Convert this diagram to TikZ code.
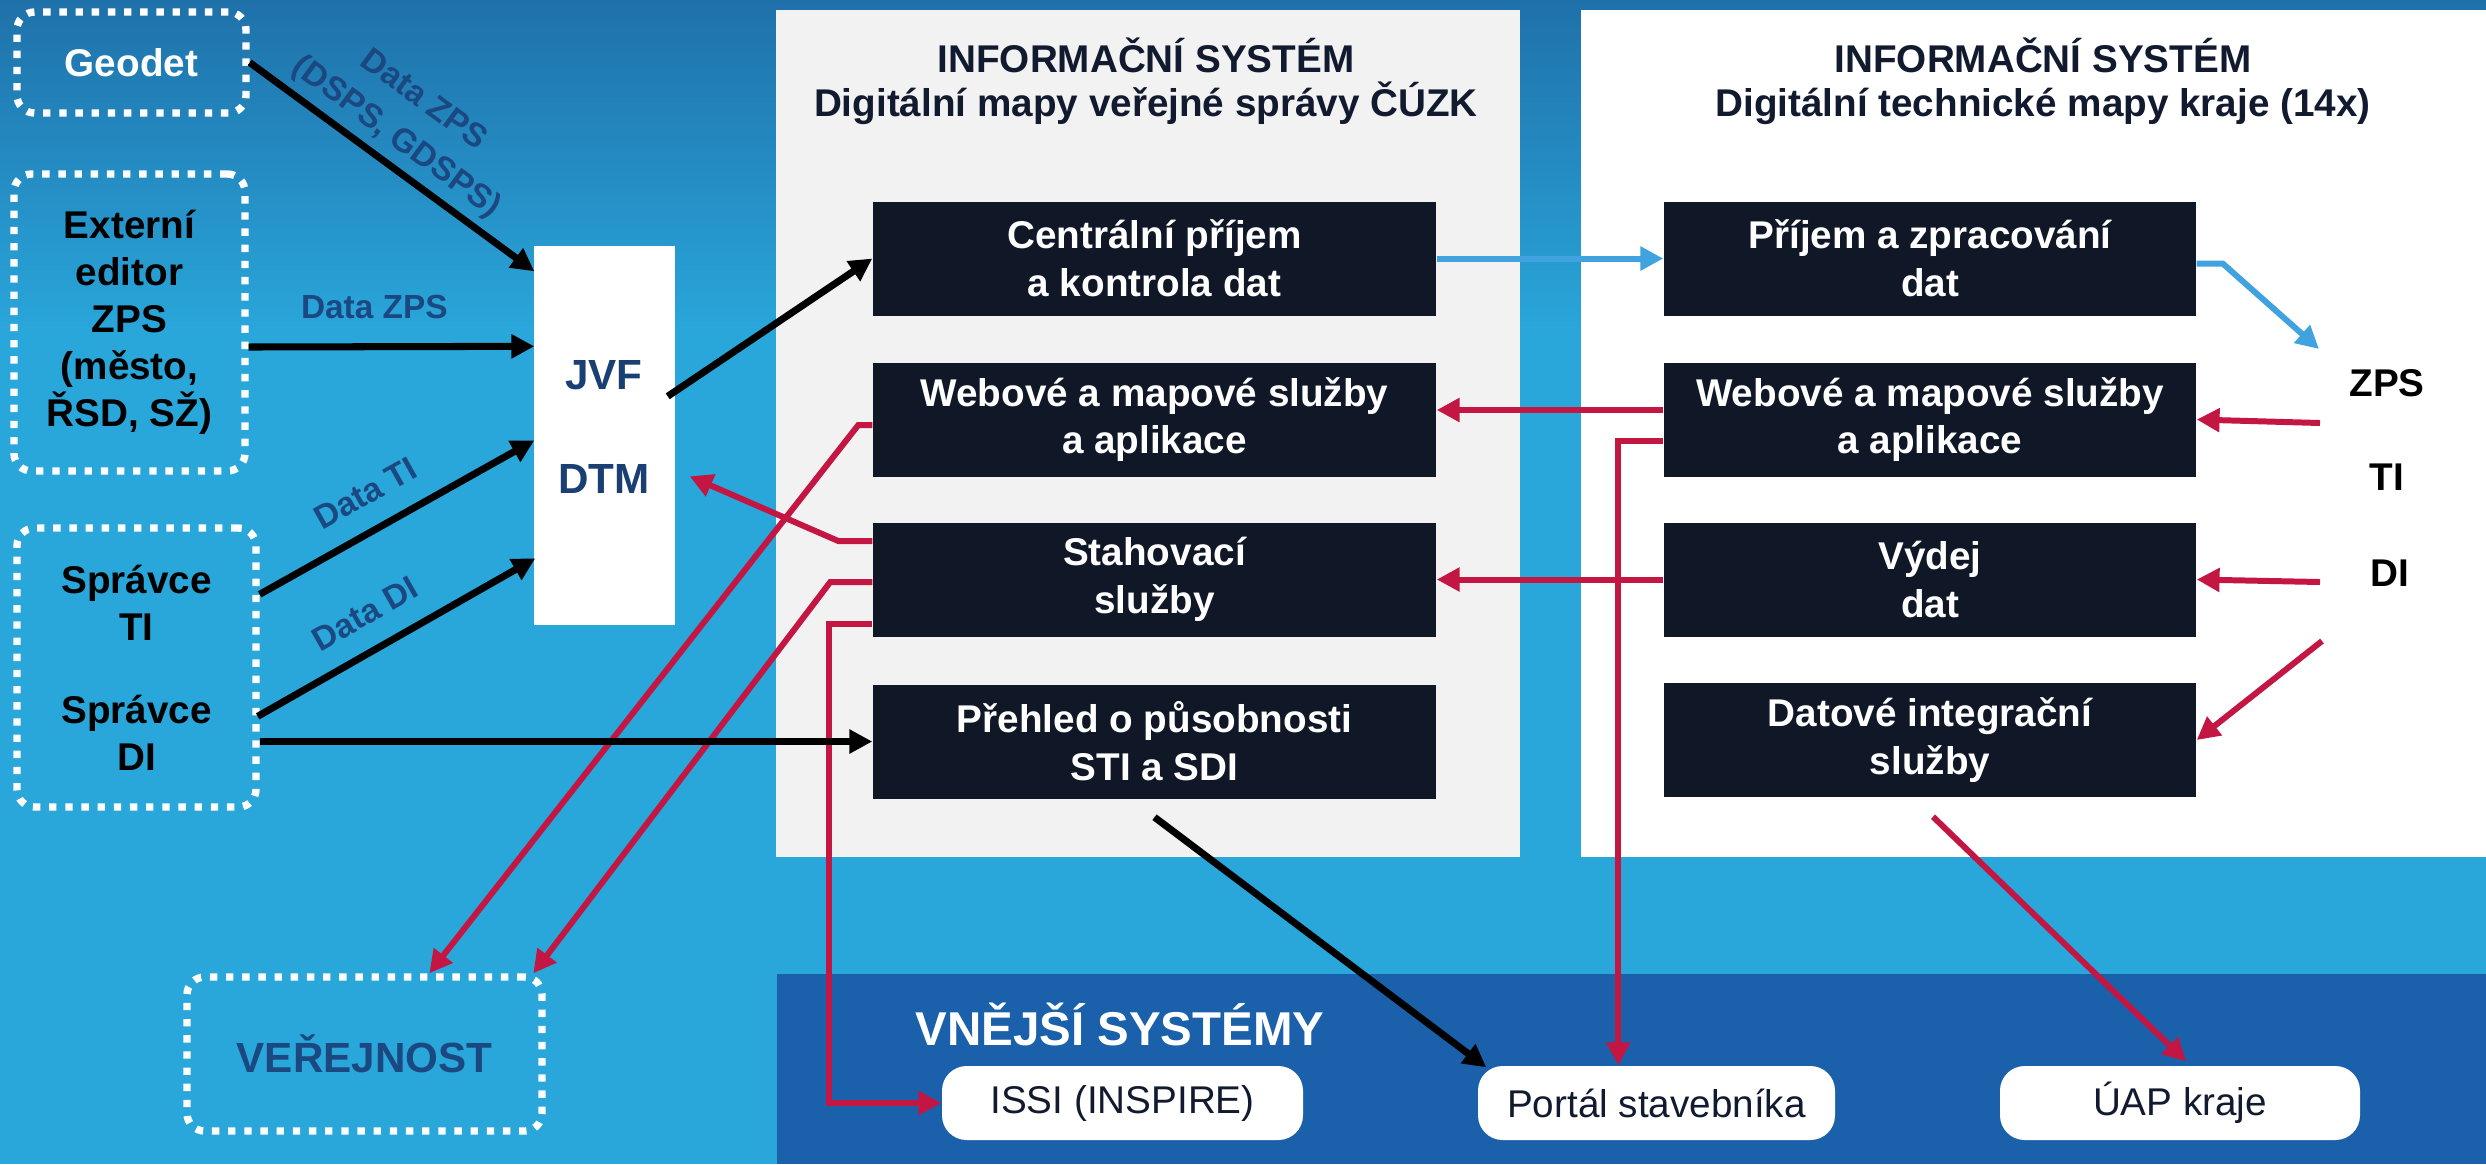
\documentclass[tikz,border=0pt]{standalone}
\usepackage{fontspec}
\setmainfont{Liberation Sans}
\usetikzlibrary{arrows.meta,calc}

\definecolor{bgblue}{RGB}{41,166,218}
\definecolor{topblue}{RGB}{31,113,170}
\definecolor{bandblue}{RGB}{27,96,171}
\definecolor{panelgrey}{RGB}{242,242,242}
\definecolor{boxdark}{RGB}{16,24,40}
\definecolor{navy}{RGB}{27,72,128}
\definecolor{jvfnavy}{RGB}{26,63,114}
\definecolor{titledark}{RGB}{17,26,46}
\definecolor{arrred}{RGB}{196,22,66}
\definecolor{arrblue}{RGB}{64,162,222}

\begin{document}
\begin{tikzpicture}[x=0.1mm,y=-0.1mm,
	service/.style={fill=boxdark,text=white,font=\fontsize{11}{13.6}\selectfont\bfseries,
		align=center,minimum width=5.63cm,minimum height=1.14cm,inner sep=0pt},
	actor/.style={draw=white,line width=2.1pt,dash pattern=on 2.1pt off 2.5pt,rounded corners=5pt,
		align=center,font=\fontsize{11}{13.4}\selectfont\bfseries,inner sep=0pt},
	extsys/.style={fill=white,rounded corners=7pt,text=titledark,font=\fontsize{11}{13}\selectfont,
		minimum height=0.74cm,inner sep=0pt},
	flow/.style={line width=2pt,-{Triangle[length=6.5pt,width=6.5pt]}},
	feed/.style={flow,line width=1.7pt,arrred},
	intake/.style={flow,line width=1.7pt,arrblue},
	datalabel/.style={text=navy,font=\fontsize{9.5}{13}\selectfont\bfseries,align=center,inner sep=1pt},
	heading/.style={text=titledark,font=\fontsize{11}{12.5}\selectfont\bfseries,align=center}]

		\useasboundingbox (0,0) rectangle (2486,1164);
		\fill[bgblue] (0,0) rectangle (2486,1164);
		\shade[top color=topblue,bottom color=bgblue] (0,0) rectangle (2486,330);
		\fill[bandblue] (777,974) rectangle (2486,1164);
		\fill[panelgrey] (776,10) rectangle (1520,857);
		\fill[white] (1581,10) rectangle (2486,857);

		\node[heading] (dmvs) at (1146,81) {INFORMAČNÍ SYSTÉM\\Digitální mapy veřejné správy ČÚZK};
		\node[heading] (dtmk) at (2043,81) {INFORMAČNÍ SYSTÉM\\Digitální technické mapy kraje (14x)};
		\node[text=white,font=\fontsize{13.5}{16}\selectfont\bfseries] (vs) at (1120,1024) {VNĚJŠÍ SYSTÉMY};

		\node[service] (cpk) at (1154.5,258.5) {Centrální příjem\\a kontrola dat};
		\node[service] (wmsL) at (1154.5,419.5) {Webové a mapové služby\\a aplikace};
		\node[service] (stah) at (1154.5,579.5) {Stahovací\\služby};
		\node[service] (phl) at (1154.5,741.5) {Přehled o působnosti\\STI a SDI};

		\node[service,minimum width=5.32cm] (pzd) at (1930,258.5) {Příjem a zpracování\\dat};
		\node[service,minimum width=5.32cm] (wmsR) at (1930,419.5) {Webové a mapové služby\\a aplikace};
		\node[service,minimum width=5.32cm] (vyd) at (1930,579.5) {Výdej\\dat};
		\node[service,minimum width=5.32cm] (dis) at (1930,740) {Datové integrační\\služby};

		\node[actor,text=white,minimum width=2.29cm,minimum height=1.01cm] (geo) at (131.5,62.5) {Geodet};
		\node[actor,minimum width=2.31cm,minimum height=2.97cm] (edt) at (129.5,322.5)
			{Externí\\editor\\ZPS\\(město,\\ŘSD, SŽ)};
		\node[actor,minimum width=2.39cm,minimum height=2.79cm] (adm) at (136.5,667.5)
			{Správce\\TI\\[3.6mm]Správce\\DI};
		\node[actor,text=navy,font=\fontsize{12}{14}\selectfont\bfseries,minimum width=3.55cm,
			minimum height=1.54cm] (pub) at (364.5,1054) {VEŘEJNOST};

		\node[fill=white,minimum width=1.41cm,minimum height=3.79cm,inner sep=0pt] (store) at (604.5,435.5) {};
		\node[text=jvfnavy,font=\fontsize{12}{14}\selectfont\bfseries] (jvf) at (604,375) {JVF};
		\node[text=jvfnavy,font=\fontsize{12}{14}\selectfont\bfseries] (dtm) at (604,479) {DTM};

		\node[font=\fontsize{11}{13}\selectfont\bfseries] (zps) at (2387,383) {ZPS};
		\node[font=\fontsize{11}{13}\selectfont\bfseries] (ti) at (2387,477) {TI};
		\node[font=\fontsize{11}{13}\selectfont\bfseries] (di) at (2390,573) {DI};

		\node[extsys,minimum width=3.61cm] (iss) at (1122.5,1103) {ISSI (INSPIRE)};
		\node[extsys,minimum width=3.57cm] (por) at (1656.5,1103) {Portál stavebníka};
		\node[extsys,minimum width=3.6cm] (uap) at (2180,1103) {ÚAP kraje};

		\coordinate (zpsin) at (2319,349);
		\coordinate (zpsout) at (2320,423);
		\coordinate (diout) at (2320,582);
		\coordinate (diout2) at (2322,641);

		\draw[intake] (cpk.east) -- (pzd.west);
		\draw[intake] ($(pzd.east)+(0,5)$) -- ++(26,0) -- (zpsin);

		\draw[feed] ($(wmsR.west)+(0,-9.5)$) -- ($(wmsL.east)+(0,-9.5)$);
		\draw[feed] (vyd.west) -- (stah.east);
		\draw[feed] (zpsout) -- (wmsR.east);
		\draw[feed] (diout) -- (vyd.east);
		\draw[feed] (diout2) -- (dis.east);
		\draw[feed] ($(wmsR.west)+(0,21.5)$) -| ($(por.north west)+(141,0)$);
		\draw[feed] ($(dis.south)+(3,19)$) -- ($(uap.north)+(6,-4)$);
		\draw[feed] ($(stah.west)+(0,-38.5)$) -- ++(-34,0) -- ($(store.north east)+(14,231)$);
		\draw[feed] ($(wmsL.west)+(0,5.5)$) -- ++(-14,0) -- ($(pub.north west)+(246,0)$);
		\draw[feed] ($(stah.west)+(0,2.5)$) -- ++(-42,0) -- ($(pub.north west)+(350,0)$);
		\draw[feed] ($(stah.west)+(0,44.5)$) -- ++(-43,0) |- (iss.west);

		\draw[flow] (geo.east) -- ($(store.north west)+(1,26)$)
			node[datalabel,pos=0.46,sloped,above=1pt] {Data ZPS\\(DSPS, GDSPS)};
		\draw[flow] ($(edt.east)+(0,24.5)$) -- ($(store.north west)+(1,101)$)
			node[datalabel,pos=0.44,above=6pt] {Data ZPS};
		\draw[flow] ($(adm.north east)+(0,70)$) -- ($(store.north west)+(1,195)$)
			node[datalabel,pos=0.45,sloped,above=5pt] {Data TI};
		\draw[flow] ($(adm.north east)+(-2,192)$) -- ($(store.north west)+(2,313)$)
			node[datalabel,pos=0.45,sloped,above=5pt] {Data DI};
		\draw[flow] (adm.east |- phl.west) -- (phl.west);
		\draw[flow] ($(store.north east)+(-8,151)$) -- (cpk.west);
		\draw[flow] ($(phl.south)+(0,18)$) -- ($(por.north west)+(9,2)$);
	\end{tikzpicture}
\end{document}
